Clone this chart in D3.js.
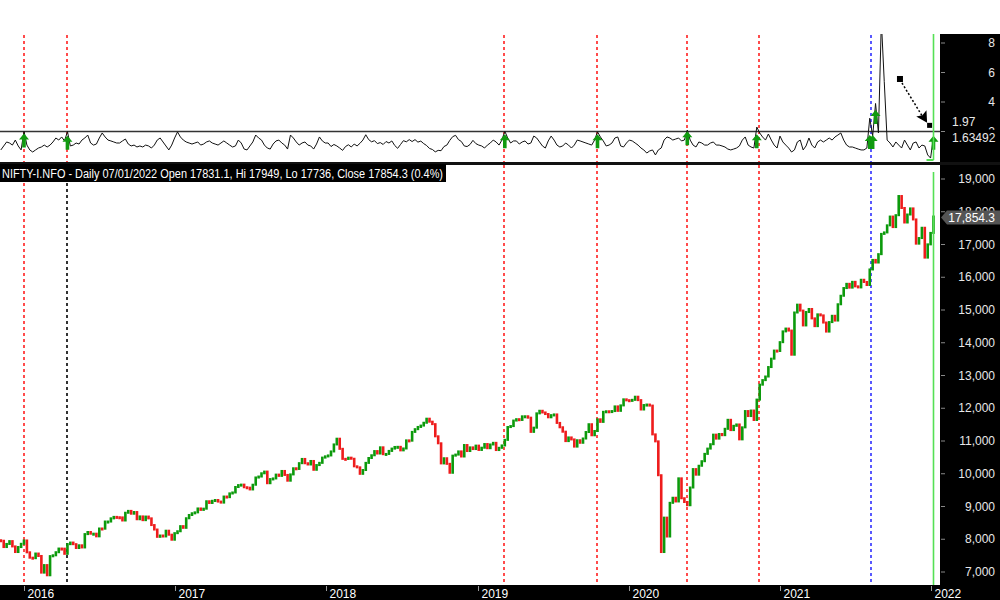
<!DOCTYPE html>
<html><head><meta charset="utf-8">
<script src="https://cdn.jsdelivr.net/npm/d3@7"></script>
<style>
body{margin:0;background:#fff;}
svg{display:block;font-family:Arial,"Liberation Sans",sans-serif;}
</style>
</head><body>
<svg id="chart" width="1000" height="600"></svg>
<script>
// ---------------- DATA ----------------
const ticker = "NIFTY-I.NFO";
const firstWeek = "2015-11-06";   // weekly bars, one every 7 days
const firstOpen = 7970;
const close2015 = [7954, 7762, 7857, 7943, 7781, 7610, 7762, 7861, 7963];
const close2016 = [7601, 7437, 7422, 7564, 7489, 6981, 7211, 6900, 7485, 7510, 7604, 7716,
  7713, 7555, 7850, 7899, 7850, 7733, 7815, 7750, 8157, 8221, 8170, 8170, 8089,
  8328, 8323, 8541, 8541, 8638, 8683, 8672, 8667, 8573, 8809, 8866, 8780, 8831, 8611,
  8697, 8583, 8693, 8638, 8433, 8297, 8074, 8114, 8086, 8261, 8139, 7986, 8186];
const close2017 = [8244, 8400, 8349, 8641, 8741, 8793, 8821, 8940, 8897, 8934, 9160, 9108, 9174,
  9198, 9150, 9119, 9304, 9285, 9400, 9428, 9595, 9653, 9668, 9588, 9575, 9521,
  9665, 9886, 9915, 10014, 10066, 9711, 9837, 9857, 9974, 9935, 10085, 9964, 9788,
  9980, 10167, 10147, 10323, 10452, 10321, 10283, 10390, 10121, 10265, 10333, 10493, 10531];
const close2018 = [10559, 10681, 10895, 11070, 10761, 10455, 10452, 10491, 10458, 10227, 10195, 9998, 10114,
  10332, 10481, 10564, 10692, 10618, 10807, 10597, 10605, 10697, 10768, 10818, 10822, 10714,
  10772, 11019, 11010, 11278, 11361, 11429, 11471, 11557, 11681, 11590, 11515, 11143, 10930,
  10316, 10473, 10303, 10030, 10553, 10585, 10682, 10527, 10877, 10694, 10805, 10754, 10859];
const close2019 = [10727, 10795, 10907, 10780, 10894, 10944, 10724, 10792, 10864, 11035, 11427, 11456, 11624,
  11666, 11643, 11753, 11755, 11712, 11279, 11407, 11844, 11923, 11871, 11823, 11724, 11789,
  11811, 11552, 11419, 11284, 10997, 11109, 11048, 10829, 11023, 10946, 11076, 11274, 11512,
  11175, 11305, 11662, 11584, 11891, 11908, 11895, 11914, 12056, 11921, 12087, 12272, 12246];
const close2020 = [12226, 12257, 12352, 12248, 11962, 12098, 12113, 12081, 11202, 10989, 9955, 7610, 8660,
  8084, 9112, 9267, 9154, 9860, 9252, 9137, 9039, 9580, 10142, 9972, 10244, 10383,
  10607, 10768, 10902, 11194, 11073, 11214, 11178, 11372, 11647, 11333, 11464, 11505, 11050,
  11417, 11914, 11762, 11930, 11642, 12264, 12720, 12859, 12969, 13258, 13514, 13761, 13749, 14018];
const close2021 = [14347, 14433, 14372, 13635, 14924, 15163, 14982, 14529, 14938, 15031, 14744, 14507,
  14867, 14835, 14617, 14341, 14631, 14823, 14678, 15175, 15435, 15670, 15799, 15683, 15860,
  15722, 15690, 15923, 15856, 15763, 16238, 16529, 16450, 16705, 17324, 17369, 17585, 17853,
  17532, 17895, 18480, 18115, 17672, 17916, 18102, 17765, 17026, 17197, 17511, 16600, 17004, 17354];
const close2022 = [17854.3];

const osc2015 = [0.75, 1.02, 1.29, 1.22, 1.08, 1.42, 1.02, 0.75, 2.02];
const osc2016 = [1.08,0.75,0.61,0.75,0.88,0.95,1.08,0.95,1.08,1.29, 1.56,1.42,1.63,1.36,2.0,1.02,1.08,1.22,1.15,1.42,
  1.56,1.76,1.22,1.08,1.15,1.56,1.90,1.63,1.42,1.36, 1.29,1.22,1.22,1.36,1.49,1.15,1.02,1.08,0.95,1.02,
  0.95,1.08,1.02,0.88,1.08,1.42,1.56,1.29,1.02,0.75, 1.08,1.56];
const osc2017 = [1.97,1.63,1.42,1.29,1.22,1.15,1.22,1.29,1.08,1.15, 1.29,1.36,1.22,1.15,1.08,1.22,1.36,1.22,1.08,0.95,
  1.02,1.42,1.22,0.81,0.75,1.02,1.29,1.76,1.56,1.42, 1.08,0.88,0.81,1.15,1.36,1.42,1.22,1.08,0.81,1.76,
  1.56,1.29,1.08,1.22,1.29,1.08,1.02,0.81,1.15,1.63, 1.36,1.22];
const osc2018 = [1.22,0.98,1.12,1.02,0.88,0.72,0.98,1.1,0.95,1.15, 1.02,1.2,1.42,1.78,1.45,1.3,1.38,1.18,1.25,1.12,
  1.32,1.22,1.36,1.05,0.86,1.12,1.38,1.3,1.45,1.32, 1.45,1.28,1.35,1.18,1.05,0.85,0.78,0.62,0.72,0.7,
  0.98,1.08,1.4,1.65,1.74,1.45,1.32,1.02,0.98,1.12, 1.4,1.18];
const osc2019 = [1.08,1.02,0.88,1.08,1.22,1.42,1.29,1.08,1.42,2.02, 1.56,1.22,1.36,1.36,1.15,1.29,1.36,1.15,1.22,1.69,
  1.56,1.29,1.02,0.88,1.36,1.69,1.42,1.08,0.95,1.02, 1.22,1.08,0.88,1.08,1.42,1.36,1.29,1.22,1.15,1.08,
  1.42,1.98,1.63,1.36,1.02,1.08,1.22,1.56,1.63,1.02, 0.95,1.22];
const osc2020 = [1.42,1.36,1.22,1.08,0.88,0.75,0.54,0.68,0.75,0.41, 0.75,0.88,1.42,1.63,1.56,1.42,1.49,1.56,1.36,1.42,
  2.1,1.42,1.08,0.95,1.29,1.22,1.08,1.08,1.22,1.29, 1.08,1.08,1.02,0.95,0.81,0.75,0.81,0.88,1.02,1.42,
  1.63,1.08,0.95,0.88,2.3,1.90,1.63,1.42,1.83,1.42, 1.08,0.88,1.69];
const osc2021 = [1.29,1.08,0.88,0.61,0.75,1.29,1.42,0.75,1.02,1.56, 1.08,0.88,1.29,1.42,1.29,1.42,1.56,1.42,1.63,1.76,
  1.90,1.42,1.08,0.95,0.95,0.88,0.81,0.75,0.75,0.88, 2.9,1.7,3.9,1.9,9.5,5.4,1.42,1.22,0.95,1.29,
  1.08,0.88,1.42,1.08,0.75,1.22,1.29,0.88,1.08,1.02, 0.41,0.2];
const osc2022 = [1.63492];

const yearTicks = [2016, 2017, 2018, 2019, 2020, 2021, 2022];
const priceTicks = [7000, 8000, 9000, 10000, 11000, 12000, 13000, 14000, 15000, 16000, 17000, 18000, 19000];
const oscTicks = [2, 4, 6, 8];
const oscLevel = 1.97;
const redLines = ["2016-01-01", "2019-03-07", "2019-10-16", "2020-05-22", "2020-11-11"];
const mixedLines = ["2016-04-14"];
const blueLines = ["2021-08-08"];
const greenLines = ["2022-01-07"];
const signalDates = ["2016-01-01", "2016-04-15", "2019-03-08", "2019-10-18", "2020-05-22", "2020-11-06",
  "2021-08-06", "2021-08-13", "2021-08-20", "2022-01-07"];
const signalLevels = [2.0, 1.85, 1.95, 1.95, 2.15, 1.95, 1.9, 1.9, 3.6, 1.85];
const pointerFrom = ["2021-10-18", 5.56];
const pointerTo = ["2021-12-25", 2.45];
const lastDateLabel = "07/01/2022";
const lastOpen = 17831.1, lastHi = 17949, lastLo = 17736, lastClose = 17854.3, lastChg = 0.4;

// ---------------- CHART ----------------
const svg = d3.select("#chart");
const parse = d3.timeParse("%Y-%m-%d");
const closes = [].concat(close2015, close2016, close2017, close2018, close2019, close2020, close2021, close2022);
const osc = [].concat(osc2015, osc2016, osc2017, osc2018, osc2019, osc2020, osc2021, osc2022);
const start = parse(firstWeek);
const dates = closes.map((_, i) => d3.timeDay.offset(start, 7 * i));

const PLOT_R = 940;
const x = d3.scaleTime().domain([parse("2016-01-01"), parse("2022-01-01")]).range([24, 931]);
const yO = d3.scaleLinear().domain([0, 8]).range([161, 43]);
const yP = d3.scaleLinear().domain([7000, 19000]).range([572, 179]);
const snap = v => Math.round(v) + 0.5;

const defs = svg.append("defs");
defs.append("clipPath").attr("id", "clipTop").append("rect").attr("x", 0).attr("y", 34).attr("width", PLOT_R).attr("height", 129);
defs.append("clipPath").attr("id", "clipBot").append("rect").attr("x", 0).attr("y", 165).attr("width", PLOT_R).attr("height", 420);

// right axis background
svg.append("rect").attr("x", PLOT_R).attr("y", 34).attr("width", 1000 - PLOT_R).attr("height", 566).attr("fill", "#000");

const gTop = svg.append("g").attr("clip-path", "url(#clipTop)");
const gBot = svg.append("g").attr("clip-path", "url(#clipBot)");

// vertical marker lines
function vline(g, d, color, y0, y1) {
  const vx = Math.round(x(parse(d)));
  g.append("line").attr("x1", vx).attr("x2", vx).attr("y1", y0).attr("y2", y1)
    .attr("stroke", color).attr("stroke-width", 1.6).attr("stroke-dasharray", "3,3");
}
redLines.forEach(d => { vline(gTop, d, "#ff2020", 35, 163); vline(gBot, d, "#ff2020", 165, 585); });
mixedLines.forEach(d => { vline(gTop, d, "#ff2020", 35, 163); vline(gBot, d, "#000", 165, 585); });
blueLines.forEach(d => { vline(gTop, d, "#3030ff", 35, 163); vline(gBot, d, "#3030ff", 165, 585); });

// threshold line
gTop.append("line").attr("x1", 0).attr("x2", PLOT_R).attr("y1", yO(2)).attr("y2", yO(2))
  .attr("stroke", "#333").attr("stroke-width", 1.3);

// oscillator
const line = d3.line().x((d, i) => x(dates[i])).y(d => yO(d));
gTop.append("path").datum(osc).attr("d", line).attr("fill", "none").attr("stroke", "#111").attr("stroke-width", 1);

// green last-bar lines
greenLines.forEach(d => {
  const gx = snap(x(parse(d)));
  svg.append("line").attr("x1", gx).attr("x2", gx).attr("y1", 34).attr("y2", 160).attr("stroke", "#55e055").attr("stroke-width", 1.6);
  svg.append("line").attr("x1", gx - 7).attr("x2", gx).attr("y1", 160).attr("y2", 160).attr("stroke", "#55e055").attr("stroke-width", 2);
  svg.append("line").attr("x1", gx).attr("x2", gx).attr("y1", 172).attr("y2", 586).attr("stroke", "#55e055").attr("stroke-width", 1.6);
  svg.append("rect").attr("x", gx - 4).attr("y", 586).attr("width", 5).attr("height", 3).attr("fill", "#1aa01a");
});

// buy arrows
const arrowPath = "M0,0 L5,6 L1.8,6 L1.8,14 L-1.8,14 L-1.8,6 L-5,6 Z";
signalDates.forEach((d, i) => {
  gTop.append("path").attr("d", arrowPath)
    .attr("transform", `translate(${x(parse(d))},${yO(signalLevels[i]) + 2})`)
    .attr("fill", "#109a10");
});

// pointer annotation
const px0 = x(parse(pointerFrom[0])), py0 = yO(pointerFrom[1]);
const px1 = x(parse(pointerTo[0])), py1 = yO(pointerTo[1]);
gTop.append("rect").attr("x", px0 - 3).attr("y", py0 - 3).attr("width", 6).attr("height", 6).attr("fill", "#000");
gTop.append("line").attr("x1", px0 + 2).attr("y1", py0 + 4).attr("x2", px1 - 6).attr("y2", py1 - 9)
  .attr("stroke", "#000").attr("stroke-width", 1.5).attr("stroke-dasharray", "2,2");
const ang = Math.atan2(py1 - py0, px1 - px0) * 180 / Math.PI;
gTop.append("path").attr("d", "M0,0 L-11,-6 L-9,0 L-11,6 Z")
  .attr("transform", `translate(${px1 - 1},${py1 - 2}) rotate(${ang})`).attr("fill", "#000");
gTop.append("rect").attr("x", px1 - 1).attr("y", py1 - 2).attr("width", 5).attr("height", 5).attr("fill", "#000");

// candles (weekly; open = previous close)
const candles = closes.map((c, i) => ({ d: dates[i], o: i ? closes[i - 1] : firstOpen, c }));
gBot.selectAll("rect.c").data(candles).enter().append("rect").attr("class", "c")
  .attr("x", d => x(d.d) - 1.3)
  .attr("width", 2.6)
  .attr("y", d => Math.min(yP(d.o), yP(d.c)) - 1)
  .attr("height", d => Math.max(3, Math.abs(yP(d.o) - yP(d.c)) + 2))
  .attr("fill", d => d.c >= d.o ? "#0c9a0c" : "#ee1c1c");

// separator + title bar
svg.append("rect").attr("x", 0).attr("y", 162).attr("width", 1000).attr("height", 3).attr("fill", "#111");
svg.append("rect").attr("x", 0).attr("y", 164).attr("width", 446).attr("height", 18).attr("fill", "#000");
svg.append("text").attr("x", 2).attr("y", 177.5).attr("fill", "#fff").attr("font-size", 12)
  .attr("textLength", 441).attr("lengthAdjust", "spacingAndGlyphs")
  .text(`${ticker} - Daily ${lastDateLabel} Open ${lastOpen}, Hi ${lastHi}, Lo ${lastLo}, Close ${lastClose} (${lastChg}%)`);

// right axis: oscillator ticks
oscTicks.forEach(t => {
  svg.append("line").attr("x1", PLOT_R + 1).attr("x2", PLOT_R + 5).attr("y1", yO(t)).attr("y2", yO(t)).attr("stroke", "#888");
  svg.append("text").attr("x", 995).attr("y", yO(t)).attr("dy", "0.35em").attr("text-anchor", "end")
    .attr("fill", "#e8e8e8").attr("font-size", 12).text(t);
});
svg.append("text").attr("x", 952).attr("y", yO(oscLevel) - 10).attr("dy", "0.35em")
  .attr("fill", "#e8e8e8").attr("font-size", 12).text(oscLevel);
svg.append("rect").attr("x", 948).attr("y", yO(osc[osc.length - 1]) - 7).attr("width", 48).attr("height", 14).attr("fill", "#000");
svg.append("text").attr("x", 952).attr("y", yO(osc[osc.length - 1]) + 1).attr("dy", "0.35em")
  .attr("fill", "#e8e8e8").attr("font-size", 12).text(osc[osc.length - 1]);

// right axis: price ticks
priceTicks.forEach(t => {
  svg.append("line").attr("x1", PLOT_R + 1).attr("x2", PLOT_R + 5).attr("y1", yP(t)).attr("y2", yP(t)).attr("stroke", "#888");
  svg.append("text").attr("x", 995).attr("y", yP(t)).attr("dy", "0.35em").attr("text-anchor", "end")
    .attr("fill", "#e8e8e8").attr("font-size", 12).text(d3.format(",")(t));
});
const ly = yP(lastClose) + 1;
svg.append("path").attr("d", `M${PLOT_R + 1},${ly} L${PLOT_R + 7},${ly - 7} L1000,${ly - 7} L1000,${ly + 7} L${PLOT_R + 7},${ly + 7} Z`)
  .attr("fill", "#555");
svg.append("text").attr("x", 995).attr("y", ly).attr("dy", "0.35em").attr("text-anchor", "end")
  .attr("fill", "#fff").attr("font-size", 12).text(d3.format(",.1f")(lastClose));

// bottom axis
svg.append("rect").attr("x", 0).attr("y", 585).attr("width", 1000).attr("height", 15).attr("fill", "#000");
yearTicks.forEach(yr => {
  const tx = snap(x(new Date(yr, 0, 1)));
  svg.append("line").attr("x1", tx).attr("x2", tx).attr("y1", 586).attr("y2", 591).attr("stroke", "#999");
  svg.append("text").attr("x", tx + 3).attr("y", 597.5).attr("fill", "#fff").attr("font-size", 12).text(yr);
});
</script>
</body></html>
